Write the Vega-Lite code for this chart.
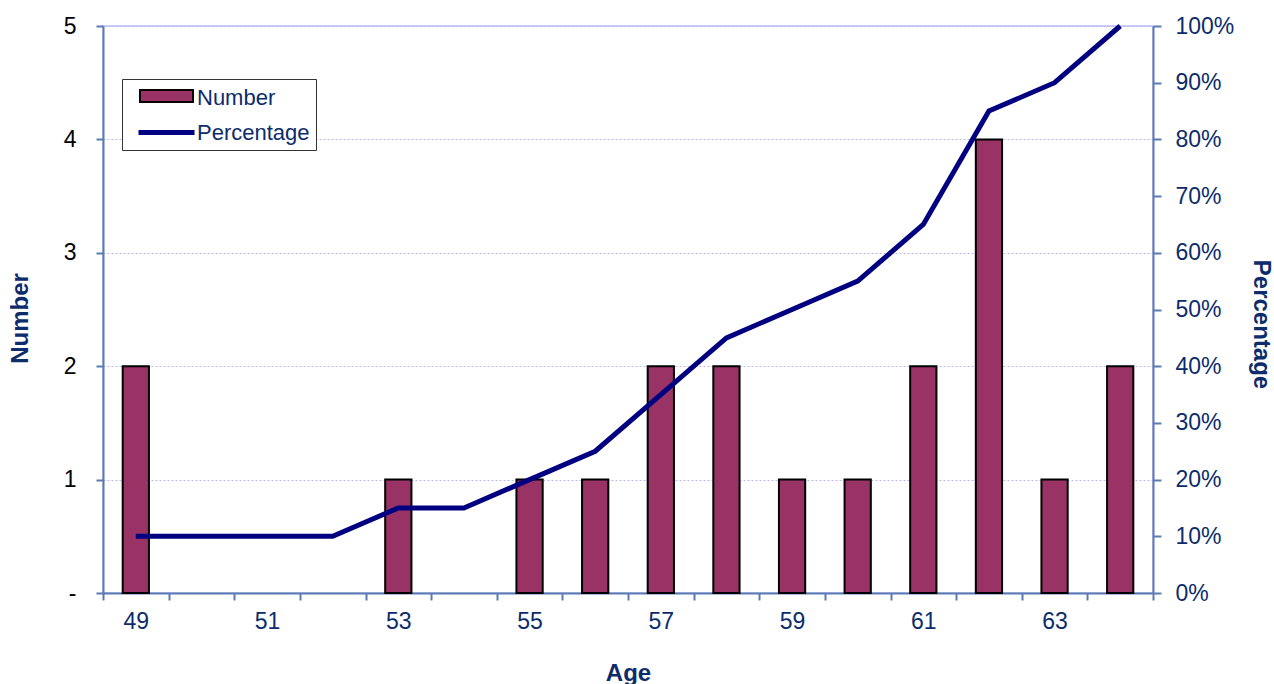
{
  "$schema": "https://vega.github.io/schema/vega-lite/v6.json",
  "width": 1050,
  "height": 567,
  "autosize": "none",
  "padding": {"left": 103, "top": 26, "right": 121, "bottom": 91},
  "config": {
    "font": "Liberation Sans",
    "view": {"stroke": "#CCCCFF", "strokeWidth": 2}
  },
  "data": {
    "values": [
      {"age": 49, "number": 2, "pct": 0.10},
      {"age": 50, "number": 0, "pct": 0.10},
      {"age": 51, "number": 0, "pct": 0.10},
      {"age": 52, "number": 0, "pct": 0.10},
      {"age": 53, "number": 1, "pct": 0.15},
      {"age": 54, "number": 0, "pct": 0.15},
      {"age": 55, "number": 1, "pct": 0.20},
      {"age": 56, "number": 1, "pct": 0.25},
      {"age": 57, "number": 2, "pct": 0.35},
      {"age": 58, "number": 2, "pct": 0.45},
      {"age": 59, "number": 1, "pct": 0.50},
      {"age": 60, "number": 1, "pct": 0.55},
      {"age": 61, "number": 2, "pct": 0.65},
      {"age": 62, "number": 4, "pct": 0.85},
      {"age": 63, "number": 1, "pct": 0.90},
      {"age": 64, "number": 2, "pct": 1.00}
    ]
  },
  "layer": [
    {
      "transform": [{"filter": "datum.number > 0"}],
      "mark": {"type": "bar", "stroke": "black", "strokeWidth": 2, "width": {"band": 0.4}},
      "encoding": {
        "x": {
          "field": "age",
          "type": "ordinal",
          "scale": {"paddingInner": 0, "paddingOuter": 0},
          "axis": {
            "title": "Age",
            "labelAngle": 0,
            "tickBand": "extent",
            "labelExpr": "datum.value % 2 == 1 ? datum.label : ''",
            "labelOverlap": false,
            "labelFontSize": 23,
            "labelColor": "#0C2C6B",
            "labelPadding": 10,
            "tickSize": 7,
            "tickWidth": 2,
            "tickColor": "#5A7BB0",
            "domainColor": "#5A7BB0",
            "domainWidth": 2,
            "titleFontSize": 24,
            "titleFontWeight": "bold",
            "titleColor": "#0C2C6B",
            "titleY": 80,
            "titleBaseline": "middle"
          }
        },
        "y": {
          "field": "number",
          "type": "quantitative",
          "scale": {"domain": [0, 5], "nice": false},
          "axis": {
            "title": "Number",
            "values": [0, 1, 2, 3, 4, 5],
            "labelExpr": "datum.value == 0 ? '-' : datum.label",
            "labelFontSize": 23,
            "labelColor": "black",
            "labelPadding": 20,
            "tickSize": 7,
            "tickWidth": 2,
            "tickColor": "#5A7BB0",
            "domainColor": "#5A7BB0",
            "domainWidth": 2,
            "grid": true,
            "gridColor": "#B8B8EE",
            "gridDash": [2, 2],
            "gridWidth": 1,
            "titleFontSize": 24,
            "titleFontWeight": "bold",
            "titleColor": "#0C2C6B",
            "titleX": -83,
            "titleY": 292,
            "titleBaseline": "middle"
          }
        },
        "fill": {
          "datum": "Number",
          "scale": {"domain": ["Number"], "range": ["#993366"]},
          "legend": {
            "orient": "none",
            "legendX": 19,
            "legendY": 53,
            "title": null,
            "zindex": 2,
            "padding": 6,
            "labelFontSize": 22,
            "labelExpr": "''",
            "symbolSize": 400,
            "symbolType": "M0.1,-0.6H5.4V0.6H0.1Z",
            "symbolStrokeColor": "black",
            "symbolStrokeWidth": 2
          }
        }
      }
    },
    {
      "mark": {"type": "line", "strokeWidth": 5},
      "encoding": {
        "x": {"field": "age", "type": "ordinal"},
        "y": {
          "field": "pct",
          "type": "quantitative",
          "scale": {"domain": [0, 1], "nice": false},
          "axis": {
            "orient": "right",
            "title": "Percentage",
            "format": ".0%",
            "values": [0, 0.1, 0.2, 0.3, 0.4, 0.5, 0.6, 0.7, 0.8, 0.9, 1],
            "grid": false,
            "labelFontSize": 23,
            "labelColor": "#0C2C6B",
            "labelPadding": 14,
            "tickSize": 8,
            "tickWidth": 2,
            "tickColor": "#5A7BB0",
            "domainColor": "#5A7BB0",
            "domainWidth": 2,
            "titleFontSize": 24,
            "titleFontWeight": "bold",
            "titleColor": "#0C2C6B",
            "titleAngle": 90,
            "titleX": 107,
            "titleY": 298,
            "titleBaseline": "middle"
          }
        },
        "stroke": {
          "datum": "Percentage",
          "scale": {"domain": ["Number", "Percentage"], "range": ["transparent", "#000080"]},
          "legend": {
            "orient": "none",
            "legendX": 19,
            "legendY": 53,
            "title": null,
            "zindex": 1,
            "direction": "vertical",
            "strokeColor": "#333333",
            "fillColor": "white",
            "padding": 6,
            "rowPadding": 11,
            "labelFontSize": 22,
            "labelColor": "#0C2C6B",
            "labelOffset": 44,
            "labelExpr": "datum.label + '  '",
            "symbolSize": 400,
            "symbolType": "M-0.2,0H5.4",
            "symbolStrokeWidth": 5
          }
        }
      }
    }
  ],
  "resolve": {"scale": {"y": "independent"}}
}
